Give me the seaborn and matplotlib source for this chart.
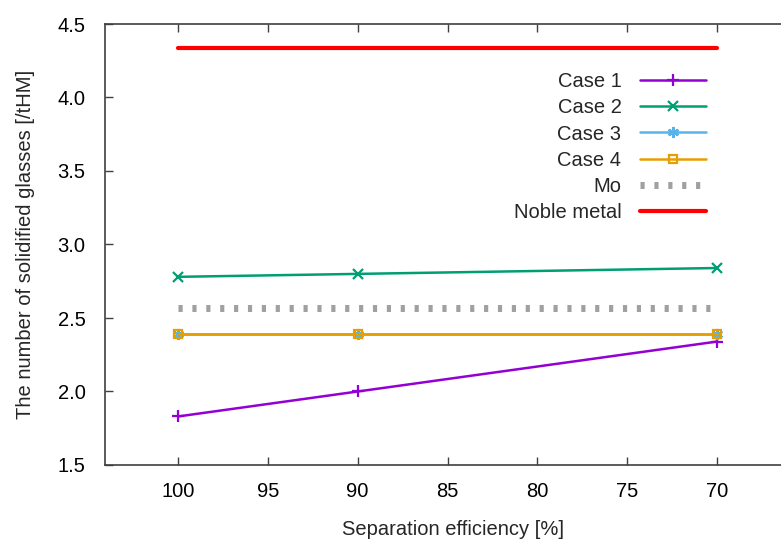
import matplotlib
matplotlib.use("Agg")
import matplotlib.pyplot as plt
import seaborn as sns
import pandas as pd

efficiency = [100, 90, 70]
case1 = [1.83, 2.00, 2.34]
case2 = [2.78, 2.80, 2.84]
case3 = [2.39, 2.39, 2.39]
case4 = [2.39, 2.39, 2.39]
mo_x = [100, 70]
mo = [2.57, 2.57]
noble_x = [100, 70]
noble = [4.34, 4.34]

sns.set_theme(style="white")
plt.rcParams['font.family'] = ['Liberation Sans', 'DejaVu Sans']

W, H = 781, 539
FS = 14.5
fig = plt.figure(figsize=(W / 100, H / 100), dpi=100)
ax = fig.add_axes([105 / W, (H - 465) / H, (800 - 105) / W, (465 - 24) / H])

series = [
    ("Case 1", efficiency, case1, "#9400D3", "+", 8, 1.8),
    ("Case 2", efficiency, case2, "#009E73", "x", 7, 1.8),
    ("Case 3", efficiency, case3, "#56B4E9", (6, 2, 0), 8, 1.8),
    ("Case 4", efficiency, case4, "#E69F00", "s", 6, 1.8),
]
for name, xs, ys, col, mk, ms, lw in series:
    df = pd.DataFrame({"x": xs, "y": ys})
    kw = dict(markerfacecolor="none") if mk == "s" else {}
    sns.lineplot(data=df, x="x", y="y", ax=ax, color=col, marker=mk, markersize=ms,
                 linewidth=lw, markeredgewidth=1.6, markeredgecolor=col, label=name,
                 sort=False, **kw)

dfm = pd.DataFrame({"x": mo_x, "y": mo})
sns.lineplot(data=dfm, x="x", y="y", ax=ax, color="#A0A0A0", linewidth=5,
             dashes=False, label="Mo", sort=False)
ax.lines[-1].set_linestyle((0, (0.6, 1.4)))
ax.lines[-1].set_dash_capstyle("butt")

dfn = pd.DataFrame({"x": noble_x, "y": noble})
sns.lineplot(data=dfn, x="x", y="y", ax=ax, color="#FF0000", linewidth=3,
             label="Noble metal", sort=False)

ax.set_xlim(104.05, 65.4)
ax.set_ylim(1.5, 4.5)
ax.set_xticks([100, 95, 90, 85, 80, 75, 70])
ax.set_yticks([1.5, 2.0, 2.5, 3.0, 3.5, 4.0, 4.5])
ax.set_yticklabels(["1.5", "2.0", "2.5", "3.0", "3.5", "4.0", "4.5"])
ax.tick_params(direction="in", length=6, width=1, colors="#404040",
               labelcolor="black", labelsize=FS, top=True, right=True,
               bottom=True, left=True, pad=14)
ax.tick_params(axis="x", pad=12)
for s in ax.spines.values():
    s.set_color("#404040")
    s.set_linewidth(1.2)

ax.set_xlabel("Separation efficiency [%]", fontsize=FS, labelpad=14)
ax.set_ylabel("The number of solidified glasses [/tHM]", fontsize=FS, labelpad=16)

leg = ax.legend(loc="upper right", bbox_to_anchor=(706 / W, (H - 72) / H),
                bbox_transform=fig.transFigure, frameon=False, markerfirst=False,
                fontsize=FS, handlelength=3.3, labelspacing=0.36, handletextpad=0.9,
                borderaxespad=0, borderpad=0)
for t in leg.get_texts():
    t.set_ha("right")
for vp in leg._legend_box.get_children()[1].get_children():
    vp.align = "right"

fig.savefig("out.png", dpi=100)
